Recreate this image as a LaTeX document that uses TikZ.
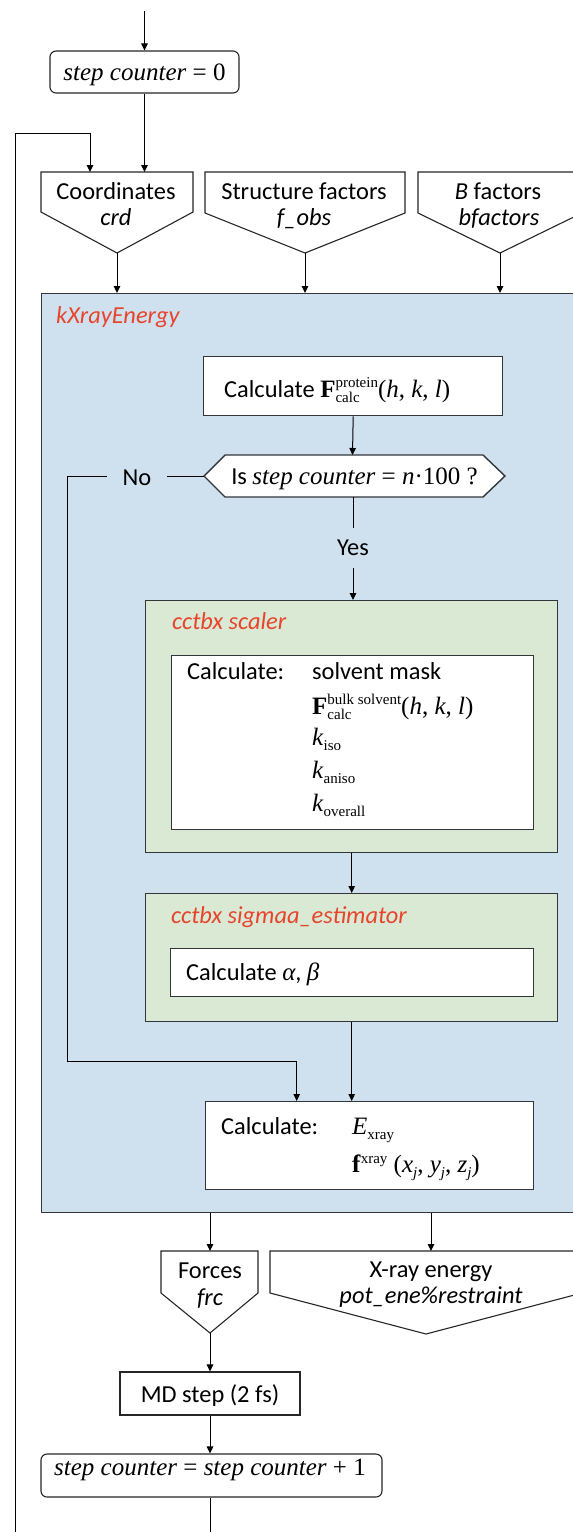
\documentclass[tikz,border=0pt]{standalone}
\usepackage{fontspec}
\setmainfont{Carlito}
\newfontfamily\tms{Liberation Serif}
\usetikzlibrary{arrows.meta,calc}

\definecolor{kxblue}{RGB}{207,225,239}
\definecolor{cgreen}{RGB}{217,233,212}
\definecolor{modred}{RGB}{232,68,44}
\definecolor{edgegray}{RGB}{50,53,58}

% font sizes (1pt = one unit of the drawing)
\newcommand\cfsize{\fontsize{24.4}{27}\selectfont}
\newcommand\tmsize{\fontsize{25}{28}\selectfont}
\newcommand\scrsize{\fontsize{15}{15}\selectfont}
% stacked superscript / subscript, left aligned
\newcommand\supsb[2]{\makebox[0pt][l]{\raisebox{-5pt}{\tms\scrsize #2}}\raisebox{10pt}{\tms\scrsize #1}}
\newcommand\subonly[1]{\raisebox{-5pt}{\tms\scrsize #1}}
\newcommand\suponly[1]{\raisebox{9pt}{\tms\scrsize #1}}

% input/output port: pentagon pointing down
% #1 name, #2 left, #3 right, #4 top, #5 side bottom, #6 tip x, #7 tip y
\newcommand\portshape[7]{%
  \draw[portline] (#2,#4) -- (#3,#4) -- (#3,#5) -- (#6,#7) -- (#2,#5) -- cycle;
  \coordinate (#1-top) at (#6,#4);
  \coordinate (#1-tip) at (#6,#7);}

\tikzset{
  arr/.style={-{Triangle[length=7pt,width=6.5pt]}, line width=1pt, black},
  wire/.style={line width=1pt, black},
  frame/.style={draw=edgegray, line width=1.4pt},
  portline/.style={draw=black!85, line width=1.1pt, fill=white},
  whitebox/.style={frame, fill=white, rectangle, inner sep=0pt},
  roundbox/.style={draw=black!85, line width=1.1pt, fill=white, rounded corners=6pt, inner sep=0pt},
  txt/.style={font=\cfsize, inner sep=0pt, anchor=base},
  ltxt/.style={font=\cfsize, inner sep=0pt, anchor=base west},
  modlabel/.style={font=\cfsize\itshape, text=modred, inner sep=0pt, anchor=base west},
}

\begin{document}
\begin{tikzpicture}[x=1pt,y=-1pt]
\useasboundingbox (0,0) rectangle (573,1532);
\clip (0,0) rectangle (573,1532);

% ---------- start ----------
\coordinate (entry) at (144.5,11);
\node[roundbox, minimum width=189pt, minimum height=42pt] (zero) at (144.5,72) {};
\node[txt] (zero-t) at (144.5,80) {\tms\tmsize\textit{step counter} = 0};
\draw[arr] (entry) -- (zero.north);

% ---------- inputs ----------
\portshape{crd}{41}{193}{172}{212}{117}{253}
\portshape{fobs}{205}{405}{172}{213}{305}{253}
\portshape{bfac}{418}{582}{172}{213}{500}{253}
\node[txt] (crd-a) at (116,199) {Coordinates};
\node[txt] (crd-b) at (116,225) {\itshape crd};
\node[txt] (fobs-a) at (304,199) {Structure factors};
\node[txt] (fobs-b) at (304,225) {\itshape f\_obs};
\node[txt] (bfac-a) at (498,199) {\textit{B} factors};
\node[txt] (bfac-b) at (499,225) {\itshape bfactors};

\draw[arr] (zero.south) -- (zero.south |- crd-top);
\coordinate (loopbot) at (15,1545);
\coordinate (looptop) at (15,133);
\coordinate (crdin) at (90,172);
\draw[arr] (loopbot) -- (looptop) -| (crdin);

% ---------- kXrayEnergy ----------
\node[frame, fill=kxblue, rectangle, inner sep=0pt, minimum width=541pt, minimum height=919pt, anchor=north west] (kx) at (41,293) {};
\node[modlabel] (kx-l) at (56,323) {kXrayEnergy};
\draw[arr] (crd-tip) -- (crd-tip |- kx.north);
\draw[arr] (fobs-tip) -- (fobs-tip |- kx.north);
\draw[arr] (bfac-tip) -- (bfac-tip |- kx.north);

% structure factors of the model
\node[whitebox, minimum width=299pt, minimum height=59pt, anchor=north west] (fprot) at (203,356) {};
\node[ltxt] (fprot-t) at (224,397) {Calculate {\tms\tmsize\textbf{F}\supsb{protein}{calc}(\textit{h}, \textit{k}, \textit{l})}};

% decision
\draw[frame, fill=white] (204,476) -- (225,455) -- (483,455) -- (505,476) -- (483,497) -- (225,497) -- cycle;
\coordinate (hex-w) at (204,476);
\coordinate (hex-n) at (352.5,455);
\coordinate (hex-s) at (353,497);
\node[txt] (hex-t) at (354.5,484) {Is {\tms\tmsize\textit{step counter} = \textit{n}\textperiodcentered 100 ?}};
\draw[arr] (fprot.south) -- (hex-n);

\node[txt, minimum width=60pt] (no) at (137,485) {No};
\node[txt, minimum height=40pt, anchor=center] (yes) at (353,548) {Yes};
\draw[wire] (hex-w) -- (no.east |- hex-w);
\draw[wire] (hex-s) -- (yes.north);

% cctbx scaler
\node[frame, fill=cgreen, rectangle, inner sep=0pt, minimum width=412pt, minimum height=252pt, anchor=north west] (scaler) at (145,600) {};
\node[modlabel] (scaler-l) at (172,629) {cctbx scaler};
\node[whitebox, minimum width=362pt, minimum height=174pt, anchor=north west] (scalc) at (171,655) {};
\node[ltxt] (scalc-l) at (187,679) {Calculate:};
\node[ltxt] (scalc-1) at (312,679) {solvent mask};
\node[ltxt] (scalc-2) at (312,714) {\tms\tmsize\textbf{F}\supsb{bulk solvent}{calc}(\textit{h}, \textit{k}, \textit{l})};
\node[ltxt] (scalc-3) at (312,745) {\tms\tmsize\textit{k}\subonly{iso}};
\node[ltxt] (scalc-4) at (312,778) {\tms\tmsize\textit{k}\subonly{aniso}};
\node[ltxt] (scalc-5) at (312,811) {\tms\tmsize\textit{k}\subonly{overall}};
\draw[arr] (yes.south) -- (yes.south |- scaler.north);

% cctbx sigmaa_estimator
\node[frame, fill=cgreen, rectangle, inner sep=0pt, minimum width=412pt, minimum height=128pt, anchor=north west] (sigma) at (145,893) {};
\node[modlabel] (sigma-l) at (171,923) {cctbx sigmaa\_estimator};
\node[whitebox, minimum width=363pt, minimum height=48pt, anchor=north west] (ab) at (170,948) {};
\node[ltxt] (ab-t) at (186,980) {Calculate {\tms\tmsize\itshape α}, {\tms\tmsize\itshape β}};
\draw[arr] (scaler.south) -- (sigma.north);

% X-ray energy and forces
\node[whitebox, minimum width=328pt, minimum height=88pt, anchor=north west] (xcalc) at (205,1101) {};
\node[ltxt] (xcalc-l) at (221,1134) {Calculate:};
\node[ltxt] (xcalc-1) at (352,1134) {\tms\tmsize\textit{E}\subonly{xray}};
\node[ltxt] (xcalc-2) at (352,1172) {\tms\tmsize\textbf{f}\suponly{xray} (\textit{x}\subonly{\itshape j}, \textit{y}\subonly{\itshape j}, \textit{z}\subonly{\itshape j})};
\draw[arr] (sigma.south) -- (sigma.south |- xcalc.north);
\coordinate (noturn) at (67,1061);
\draw[arr] (no.west |- hex-w) -| (noturn) -| ([xshift=-73pt]xcalc.north);

% ---------- outputs ----------
\portshape{frc}{161}{258}{1251}{1293}{210}{1333}
\portshape{ene}{270}{582}{1251}{1293}{426}{1334}
\node[txt] (frc-a) at (210,1278) {Forces};
\node[txt] (frc-b) at (210,1305) {\itshape frc};
\node[txt] (ene-a) at (431,1277) {X-ray energy};
\node[txt] (ene-b) at (431,1303) {\itshape pot\_ene\%restraint};
\draw[arr] (frc-top |- kx.south) -- (frc-top);
\coordinate (ene-in) at (431,1251);
\draw[arr] (ene-in |- kx.south) -- (ene-in);

% ---------- MD step ----------
\node[draw=black!85, line width=1.1pt, fill=white, rectangle, inner sep=0pt, minimum width=180pt, minimum height=43pt] (md) at (210,1393.5) {};
\node[txt] (md-t) at (210,1402) {MD step (2 fs)};
\draw[arr] (frc-tip) -- (md.north);

\node[roundbox, minimum width=341pt, minimum height=43pt] (inc) at (211.5,1475.5) {};
\node[txt] (inc-t) at (210,1475) {\tms\tmsize\textit{step counter} = \textit{step counter} + 1};
\draw[arr] (md.south) -- (md.south |- inc.north);
\coordinate (exitbot) at (210,1545);
\draw[wire] (md.south |- inc.south) -- (exitbot);
\end{tikzpicture}
\end{document}
